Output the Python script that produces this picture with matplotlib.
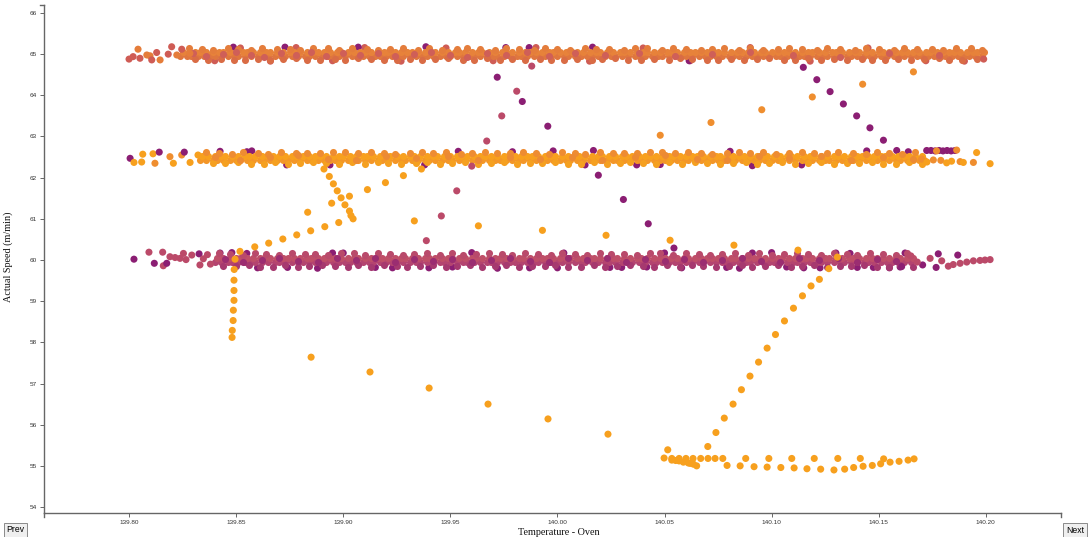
import matplotlib

matplotlib.use("Agg")
import matplotlib.pyplot as plt
from matplotlib.lines import Line2D

# ---------------------------------------------------------------- data
# colour codes used by the scatter points
PALETTE = ["#8b1e73", "#bb4a69", "#cf5c55", "#e57d3a", "#ef8e2f", "#f7a01e"]

X_TICKS = [139.80, 139.85, 139.90, 139.95, 140.00, 140.05, 140.10, 140.15, 140.20]
Y_TICKS = [54, 55, 56, 57, 58, 59, 60, 61, 62, 63, 64, 65, 66]
X_LIMITS = (139.7603, 140.2351)
Y_LIMITS = (53.855, 66.194)

# dense plateau bands: offsets in thousandths of a degree above 139.8
BAND_ORIGIN = 139.8
BAND_CENTERS = [65.0, 62.48, 60.0]

band65_core_a = [24, 27, 29, 32, 35, 38, 40, 43, 46, 49, 51, 54, 57, 60, 62, 65, 68, 71, 73, 76, 79, 82, 84, 87,
                 90, 93, 95, 98, 101, 104, 106, 109, 112, 115, 117, 120, 123, 126, 128, 131, 134, 137, 139, 142,
                 145, 148, 150, 153, 156, 159, 161, 164, 167, 170, 172, 175, 178, 181, 183, 186, 189, 192, 194,
                 197, 200, 203, 205, 208, 211, 214, 216, 219, 222, 225, 227, 230, 233, 236, 238, 241, 244, 247,
                 249, 252, 255, 258, 260, 263, 266, 269, 271, 274, 277, 280, 282, 285, 288, 291, 293, 296, 299,
                 302, 304, 307, 310, 313, 315, 318, 321, 324, 326, 329, 332, 335, 337, 340, 343, 346, 348, 351,
                 354, 357, 359, 362, 365, 368, 370, 373, 376, 379, 381, 384, 387, 390, 392, 395, 398]
band65_core_b = [25, 28, 31, 33, 36, 39, 42, 44, 47, 50, 53, 55, 58, 61, 64, 66, 69, 72, 75, 77, 80, 83, 86, 88,
                 91, 94, 97, 99, 102, 105, 108, 110, 113, 116, 119, 121, 124, 127, 130, 132, 135, 138, 141, 143,
                 146, 149, 152, 154, 157, 160, 163, 165, 168, 171, 174, 176, 179, 182, 185, 187, 190, 193, 196,
                 198, 201, 204, 207, 209, 212, 215, 218, 220, 223, 226, 229, 231, 234, 237, 240, 242, 245, 248,
                 251, 253, 256, 259, 262, 264, 267, 270, 273, 275, 278, 281, 284, 286, 289, 292, 295, 297, 300,
                 303, 306, 308, 311, 314, 317, 319, 322, 325, 328, 330, 333, 336, 339, 341, 344, 347, 350, 352,
                 355, 358, 361, 363, 366, 369, 372, 374, 377, 380, 383, 385, 388, 391, 394, 396, 399]
band65_top = [28, 34, 39, 46, 51, 57, 62, 69, 75, 80, 86, 93, 98, 104, 111, 116, 122, 128, 135, 140, 146, 153,
              158, 164, 171, 176, 182, 189, 194, 200, 206, 213, 218, 224, 231, 236, 242, 249, 254, 260, 267, 272,
              278, 285, 290, 296, 303, 308, 314, 321, 326, 332, 339, 344, 350, 357, 362, 368, 375, 380, 386, 393,
              398]
band65_bottom = [31, 37, 43, 49, 54, 60, 66, 72, 78, 83, 89, 96, 101, 107, 113, 119, 125, 131, 137, 143, 149,
                 156, 161, 167, 173, 179, 185, 192, 197, 203, 209, 216, 221, 227, 233, 239, 245, 252, 257, 263,
                 270, 275, 281, 287, 293, 299, 306, 311, 317, 323, 329, 335, 342, 347, 353, 359, 365, 371, 378,
                 383, 389, 396]

band62_core_a = [33, 36, 39, 41, 44, 47, 50, 52, 55, 58, 61, 63, 66, 69, 72, 74, 77, 80, 83, 85, 88, 91, 94, 96,
                 99, 102, 105, 107, 110, 113, 116, 118, 121, 124, 127, 129, 132, 135, 138, 140, 143, 146, 149,
                 151, 154, 157, 160, 162, 165, 168, 171, 173, 176, 179, 182, 184, 187, 190, 193, 195, 198, 201,
                 204, 206, 209, 212, 215, 217, 220, 223, 226, 228, 231, 234, 237, 239, 242, 245, 248, 250, 253,
                 256, 259, 261, 264, 267, 270, 272, 275, 278, 281, 283, 286, 289, 292, 294, 297, 300, 303, 305,
                 308, 311, 314, 316, 319, 322, 325, 327, 330, 333, 336, 338, 341, 344, 347, 349, 352, 355, 358,
                 360, 363, 366, 369, 371]
band62_core_b = [34, 37, 40, 43, 45, 48, 51, 54, 56, 59, 62, 65, 67, 70, 73, 76, 78, 81, 84, 87, 89, 92, 95, 98,
                 100, 103, 106, 109, 111, 114, 117, 120, 122, 125, 128, 131, 133, 136, 139, 142, 144, 147, 150,
                 153, 155, 158, 161, 164, 166, 169, 172, 175, 177, 180, 183, 186, 188, 191, 194, 197, 199, 202,
                 205, 208, 210, 213, 216, 219, 221, 224, 227, 230, 232, 235, 238, 241, 243, 246, 249, 252, 254,
                 257, 260, 263, 265, 268, 271, 274, 276, 279, 282, 285, 287, 290, 293, 296, 298, 301, 304, 307,
                 309, 312, 315, 318, 320, 323, 326, 329, 331, 334, 337, 340, 342, 345, 348, 351, 353, 356, 359,
                 362, 364, 367, 370]
band62_top = [36, 42, 48, 53, 60, 65, 71, 78, 83, 89, 95, 101, 107, 113, 119, 124, 131, 137, 142, 148, 155, 160,
              166, 172, 178, 184, 190, 196, 202, 208, 213, 220, 226, 231, 237, 243, 249, 255, 261, 267, 272, 279,
              285, 290, 296, 302, 308, 314, 320, 326, 331, 338, 344, 349, 355, 361, 367]
band62_bottom = [39, 45, 51, 57, 63, 68, 74, 80, 86, 92, 98, 104, 110, 116, 121, 127, 134, 139, 145, 151, 157,
                 163, 169, 175, 181, 187, 193, 199, 205, 211, 217, 223, 229, 234, 240, 246, 252, 258, 264, 270,
                 276, 282, 288, 293, 299, 305, 311, 317, 323, 329, 335, 341, 347, 352, 358, 364, 370]

band60_core_a = [40, 43, 46, 48, 51, 54, 57, 59, 62, 65, 68, 70, 73, 76, 79, 81, 84, 87, 90, 92, 95, 98, 101,
                 103, 106, 109, 112, 114, 117, 120, 123, 125, 128, 131, 134, 136, 139, 142, 145, 147, 150, 153,
                 156, 158, 161, 164, 167, 169, 172, 175, 178, 180, 183, 186, 189, 191, 194, 197, 200, 202, 205,
                 208, 211, 213, 216, 219, 222, 224, 227, 230, 233, 235, 238, 241, 244, 246, 249, 252, 255, 257,
                 260, 263, 266, 268, 271, 274, 277, 279, 282, 285, 288, 290, 293, 296, 299, 301, 304, 307, 310,
                 312, 315, 318, 321, 323, 326, 329, 332, 334, 337, 340, 343, 345, 348, 351, 354, 356, 359, 362,
                 365]
band60_core_b = [41, 44, 47, 50, 52, 55, 58, 61, 63, 66, 69, 72, 74, 77, 80, 83, 85, 88, 91, 94, 96, 99, 102,
                 105, 107, 110, 113, 116, 118, 121, 124, 127, 129, 132, 135, 138, 140, 143, 146, 149, 151, 154,
                 157, 160, 162, 165, 168, 171, 173, 176, 179, 182, 184, 187, 190, 193, 195, 198, 201, 204, 206,
                 209, 212, 215, 217, 220, 223, 226, 228, 231, 234, 237, 239, 242, 245, 248, 250, 253, 256, 259,
                 261, 264, 267, 270, 272, 275, 278, 281, 283, 286, 289, 292, 294, 297, 300, 303, 305, 308, 311,
                 314, 316, 319, 322, 325, 327, 330, 333, 336, 338, 341, 344, 347, 349, 352, 355, 358, 360, 363,
                 366]
band60_top = [42, 47, 53, 59, 64, 70, 76, 82, 87, 93, 99, 105, 110, 116, 122, 128, 133, 139, 145, 151, 156, 162,
              168, 174, 179, 185, 191, 197, 202, 208, 214, 220, 225, 231, 237, 243, 248, 254, 260, 266, 271, 277,
              283, 289, 294, 300, 306, 312, 317, 323, 329, 335, 340, 346, 352, 358, 363]
band60_bottom = [44, 50, 56, 61, 67, 73, 79, 84, 90, 96, 102, 107, 113, 119, 125, 130, 136, 142, 148, 153, 159,
                 165, 171, 176, 182, 188, 194, 199, 205, 211, 217, 222, 228, 234, 240, 245, 251, 257, 263, 268,
                 274, 280, 286, 291, 297, 303, 309, 314, 320, 326, 332, 337, 343, 349, 355, 360, 366]

# darker dots sitting inside each band, giving the mottled look
band65_mottle = [30, 36, 44, 50, 57, 63, 71, 78, 85, 92, 100, 108, 116, 124, 133, 141, 150, 158, 167, 176, 186,
                 196, 208, 222, 238, 255, 272, 290, 310, 332, 355, 378]
band62_mottle = [40, 52, 66, 79, 93, 106, 120, 134, 149, 163, 178, 192, 207, 221, 236, 250, 265, 279, 294, 308,
                 323, 337, 352, 366]
band60_mottle = [45, 53, 62, 70, 79, 88, 97, 106, 115, 124, 133, 142, 151, 160, 169, 178, 187, 196, 205, 214,
                 223, 232, 241, 250, 259, 268, 277, 286, 295, 304, 313, 322, 331, 340, 349, 358]
MOTTLE_DY = [0.03, -0.05, 0.01, 0.06, -0.02, -0.06, 0.04, -0.01, 0.05, -0.04, 0.02, -0.03]

# strand vertical offsets (m/min) and colours per band
band65_offsets = [-0.05, 0.05, 0.12, -0.12]
band62_offsets = [-0.05, 0.05, 0.12, -0.12]
band60_offsets = [-0.055, 0.055, 0.14, -0.14]
band65_colors = ["#df763e", "#e7823a", "#e47d3c", "#d96c45"]
band62_colors = ["#f39628", "#f8a01e", "#ee8c32", "#f5a020"]
band60_colors = ["#b44470", "#bf4f68", "#b94a6b", "#a6396f"]
band_mottle_colors = ["#cf5f58", "#ec8a33", "#9b2d71"]
# how far each edge dot sits outside its strand line (m/min)
EDGE_WOBBLE = [0.02, -0.01, 0.03, 0.00, -0.02, 0.01, 0.03, -0.01, 0.02, -0.02, 0.00, 0.03, 0.01,
               -0.01, 0.02, 0.00, -0.02, 0.03, 0.01, -0.02, 0.02, 0.00, 0.01, -0.01, 0.03]

# individual points between the plateaus
vert_x = [139.8495, 139.8491, 139.8490, 139.8490, 139.8490, 139.8487, 139.8486, 139.8482, 139.8481]
vert_y = [60.02, 59.77, 59.51, 59.26, 59.02, 58.78, 58.53, 58.29, 58.12]
fall_x = [139.8850, 139.9125, 139.9401, 139.9676, 139.9956, 140.0236, 140.0515]
fall_y = [57.64, 57.28, 56.89, 56.50, 56.14, 55.77, 55.39]
climb_low_x = [139.8518, 139.8587, 139.8652, 139.8718, 139.8783, 139.8848, 139.8914, 139.8979]
climb_low_y = [60.21, 60.32, 60.41, 60.51, 60.61, 60.71, 60.81, 60.91]
drop_mid_x = [139.8910, 139.8935, 139.8954, 139.8972, 139.8990, 139.9008, 139.9029, 139.9036, 139.9046]
drop_mid_y = [62.21, 62.03, 61.85, 61.68, 61.51, 61.34, 61.19, 61.08, 61.00]
climb_mid_x = [139.8834, 139.8946, 139.9029, 139.9113, 139.9197, 139.9281, 139.9365]
climb_mid_y = [61.16, 61.38, 61.55, 61.71, 61.88, 62.05, 62.21]
glide_x = [139.9332, 139.9631, 139.9930, 140.0227, 140.0526, 140.0824, 140.1123, 140.1307]
glide_y = [60.95, 60.83, 60.72, 60.60, 60.48, 60.36, 60.24, 60.07]
rose_x = [139.9388, 139.9458, 139.9530, 139.9600, 139.9670, 139.9740, 139.9810, 139.9880]
rose_y = [60.47, 61.07, 61.68, 62.28, 62.89, 63.50, 64.10, 64.71]
purple_x = [139.9719, 139.9836, 139.9955, 140.0191, 140.0308, 140.0424, 140.0544]
purple_y = [64.44, 63.85, 63.25, 62.06, 61.47, 60.88, 60.29]
purple_r_x = [140.1148, 140.1211, 140.1273, 140.1335, 140.1397, 140.1459, 140.1522]
purple_r_y = [64.68, 64.38, 64.09, 63.79, 63.50, 63.21, 62.91]
orange_r_x = [140.0480, 140.0717, 140.0954, 140.1190, 140.1425, 140.1662]
orange_r_y = [63.03, 63.34, 63.65, 63.96, 64.27, 64.57]
rise_x = [140.0702, 140.0740, 140.0779, 140.0820, 140.0859, 140.0899, 140.0939, 140.0979, 140.1018, 140.1060,
          140.1102, 140.1144, 140.1184, 140.1223, 140.1267]
rise_y = [55.47, 55.81, 56.16, 56.50, 56.85, 57.18, 57.52, 57.86, 58.19, 58.52, 58.83, 59.13, 59.37, 59.53, 59.79]
floor_hi_x = [140.0498, 140.0534, 140.0568, 140.0600, 140.0633, 140.0669, 140.0703, 140.0736, 140.0772,
              140.0879, 140.0987, 140.1094, 140.1199, 140.1309, 140.1414, 140.1523]
floor_hi_y = [55.19, 55.18, 55.18, 55.18, 55.18, 55.18, 55.18, 55.18, 55.18, 55.18, 55.18, 55.18, 55.18, 55.18,
              55.18, 55.17]
floor_slope_x = [140.0534, 140.0552, 140.0568, 140.0588, 140.0611, 140.0620, 140.0635, 140.0650]
floor_slope_y = [55.14, 55.13, 55.12, 55.09, 55.07, 55.06, 55.04, 55.00]
floor_lo_x = [140.0792, 140.0853, 140.0918, 140.0979, 140.1043, 140.1105, 140.1165, 140.1229, 140.1291,
              140.1341, 140.1383, 140.1427, 140.1470, 140.1509, 140.1553, 140.1595, 140.1637, 140.1665]
floor_lo_y = [55.01, 55.00, 54.98, 54.97, 54.96, 54.95, 54.93, 54.92, 54.90, 54.92, 54.96, 54.99, 55.01, 55.05,
              55.09, 55.11, 55.14, 55.17]

# loose points at the band ends (drawn on top)
b65_end_x = [139.8000, 139.8019, 139.8042, 139.8051, 139.8083, 139.8098, 139.8106, 139.8129, 139.8145,
             139.8183, 139.8199, 139.8223, 139.8246, 139.8284, 140.1990]
b65_end_y = [64.88, 64.94, 65.12, 64.90, 64.98, 64.96, 64.86, 65.04, 64.86, 65.00, 65.18, 64.98, 65.12, 65.02,
             64.88]
b65_end_c = [2, 2, 3, 2, 3, 3, 2, 2, 3, 2, 2, 3, 2, 3, 2]

b62_end_x = [139.8005, 139.8023, 139.8059, 139.8064, 139.8112, 139.8121, 139.8141, 139.8191, 139.8207,
             139.8246, 139.8258, 139.8285, 139.8322,
             140.1724, 140.1744, 140.1763, 140.1782, 140.1800, 140.1819, 140.1838, 140.1856, 140.1770,
             140.1864,
             140.1700, 140.1725, 140.1755, 140.1790, 140.1817, 140.1840, 140.1880, 140.1895, 140.1942,
             140.1957, 140.2020]
b62_end_y = [62.47, 62.37, 62.38, 62.57, 62.58, 62.35, 62.62, 62.51, 62.35, 62.55, 62.62, 62.37, 62.55,
             62.66, 62.66, 62.65, 62.66, 62.65, 62.66, 62.65, 62.66, 62.65, 62.67,
             62.45, 62.38, 62.43, 62.42, 62.36, 62.40, 62.39, 62.37, 62.37, 62.61, 62.34]
b62_end_c = [0, 5, 5, 5, 5, 4, 0, 4, 5, 4, 0, 5, 5,
             0, 0, 0, 0, 0, 0, 0, 0, 4, 4,
             4, 5, 4, 4, 5, 5, 4, 5, 4, 5, 5]

b60_end_x = [139.8023, 139.8093, 139.8118, 139.8157, 139.8160, 139.8176, 139.8191, 139.8215, 139.8238,
             139.8254, 139.8266, 139.8293, 139.8327, 139.8331, 139.8347, 139.8366, 139.8380,
             140.1607, 140.1705, 140.1740, 140.1768, 140.1778, 140.1794, 140.1869, 140.1650, 140.1680,
             140.1825, 140.1848, 140.1880, 140.1911, 140.1942, 140.1973, 140.1996, 140.2020]
b60_end_y = [60.02, 60.19, 59.92, 60.19, 59.86, 59.92, 60.08, 60.06, 60.04, 60.16, 60.01, 60.12, 60.15,
             59.88, 60.03, 60.13, 59.90,
             59.84, 59.88, 60.04, 59.82, 60.15, 59.98, 60.12, 60.10, 59.95,
             59.85, 59.89, 59.92, 59.95, 59.98, 59.99, 60.00, 60.01]
b60_end_c = [0, 1, 0, 1, 1, 0, 1, 1, 1, 1, 1, 1, 0, 1, 1, 1, 1,
             0, 0, 1, 0, 0, 1, 0, 1, 1,
             1, 1, 1, 1, 1, 1, 1, 1]

# specks of other colours inside the bands (drawn underneath, so they peek out at the edges)
b65_speck_x = [139.8400, 139.8520, 139.8660, 139.8780, 139.8950, 139.9100, 139.9270, 139.9480, 139.9700,
               139.9900, 140.0150, 140.0400, 140.0620, 140.0900, 140.1180, 140.1450, 140.1720, 140.1900,
               139.8487, 139.8728, 139.9070, 139.9386, 139.9759, 139.9868, 140.0164, 140.0615]
b65_speck_y = [64.84, 65.15, 64.83, 65.16, 64.84, 65.16, 64.83, 65.15, 64.84, 65.16, 64.83, 65.15, 64.84,
               65.16, 64.83, 65.15, 64.84, 64.83,
               65.17, 65.17, 65.17, 65.18, 65.16, 65.16, 65.17, 64.84]
b65_speck_c = [2, 2, 2, 2, 2, 2, 2, 2, 2, 2, 2, 2, 2, 2, 2, 2, 2, 2, 0, 0, 0, 0, 0, 0, 0, 0]

b62_speck_x = [139.8425, 139.8550, 139.8573, 139.8736, 139.8938, 139.9380, 139.9537, 139.9790, 139.9980,
               140.0129, 140.0168, 140.0370, 140.0480, 140.0806, 140.0910, 140.1140, 140.1444, 140.1584,
               140.1638]
b62_speck_y = [62.64, 62.63, 62.65, 62.31, 62.31, 62.31, 62.64, 62.63, 62.65, 62.31, 62.66, 62.31, 62.32,
               62.64, 62.29, 62.31, 62.65, 62.66, 62.63]

b60_speck_x = [139.8425, 139.8550, 139.8740, 139.8950, 139.9230, 139.9510, 139.9870, 140.0030, 140.0245,
               140.0417, 140.0790, 140.0910, 140.1070, 140.1226, 140.1366, 140.1475, 140.1600, 140.1623,
               139.8600, 139.8880, 139.9150, 139.9400, 139.9720, 140.0000, 140.0300, 140.0580, 140.0850,
               140.1150, 140.1400, 140.1550,
               139.8480, 139.9000, 139.9600, 140.0500, 140.1000, 140.1300]
b60_speck_y = [60.17, 60.16, 59.82, 60.17, 59.81, 59.83, 59.81, 60.17, 59.82, 59.83, 59.82, 60.17, 59.83,
               59.81, 60.16, 59.82, 59.83, 60.17,
               59.81, 59.80, 59.82, 59.81, 59.80, 59.81, 59.82, 59.81, 59.80, 59.81, 59.82, 59.81,
               60.18, 60.17, 60.18, 60.17, 60.18, 60.17]

# ---------------------------------------------------------------- layout
FIG_W, FIG_H = 1088, 537
AX_LEFT, AX_RIGHT, AX_TOP, AX_BOTTOM = 44, 1061, 5, 513  # pixels
DOT_SIZE = 26
AXIS_COLOR = "#666666"


def to_temperature(offsets):
    return [BAND_ORIGIN + value / 1000 for value in offsets]


def draw_band(axis, center, strands, offsets, colors):
    for index, (xs, dy, color) in enumerate(zip(strands, offsets, colors)):
        ys = []
        for position in range(len(xs)):
            wobble = 0.0
            if index >= 2:  # edge strands get a ragged outline
                wobble = EDGE_WOBBLE[(position + 7 * index) % len(EDGE_WOBBLE)]
                wobble = wobble if dy > 0 else -wobble
            ys.append(center + dy + wobble)
        axis.scatter(to_temperature(xs), ys, s=DOT_SIZE, c=color, linewidths=0, zorder=2)


def draw_mottle(axis, center, xs, color):
    ys = [center + MOTTLE_DY[position % len(MOTTLE_DY)] for position in range(len(xs))]
    axis.scatter(to_temperature(xs), ys, s=DOT_SIZE, c=color, linewidths=0, zorder=2.5)


def draw_points(axis, xs, ys, codes, zorder=3):
    if isinstance(codes, int):
        codes = [codes] * len(xs)
    axis.scatter(xs, ys, s=DOT_SIZE, c=[PALETTE[code] for code in codes], linewidths=0, zorder=zorder)


figure = plt.figure(figsize=(FIG_W / 100, FIG_H / 100), dpi=100)
axis = figure.add_axes([
    AX_LEFT / FIG_W,
    1 - AX_BOTTOM / FIG_H,
    (AX_RIGHT - AX_LEFT) / FIG_W,
    (AX_BOTTOM - AX_TOP) / FIG_H,
])

draw_points(axis, b65_speck_x, b65_speck_y, b65_speck_c, zorder=1)
draw_points(axis, b62_speck_x, b62_speck_y, 0, zorder=1)
draw_points(axis, b60_speck_x, b60_speck_y, 0, zorder=1)

draw_band(axis, BAND_CENTERS[0], [band65_core_a, band65_core_b, band65_top, band65_bottom],
          band65_offsets, band65_colors)
draw_band(axis, BAND_CENTERS[1], [band62_core_a, band62_core_b, band62_top, band62_bottom],
          band62_offsets, band62_colors)
draw_band(axis, BAND_CENTERS[2], [band60_core_a, band60_core_b, band60_top, band60_bottom],
          band60_offsets, band60_colors)
for center, xs, color in zip(BAND_CENTERS, [band65_mottle, band62_mottle, band60_mottle], band_mottle_colors):
    draw_mottle(axis, center, xs, color)

draw_points(axis, b65_end_x, b65_end_y, b65_end_c)
draw_points(axis, b62_end_x, b62_end_y, b62_end_c)
draw_points(axis, b60_end_x, b60_end_y, b60_end_c)

for xs, ys, code in [
    (vert_x, vert_y, 5), (fall_x, fall_y, 5), (climb_low_x, climb_low_y, 5),
    (drop_mid_x, drop_mid_y, 5), (climb_mid_x, climb_mid_y, 5), (glide_x, glide_y, 5),
    (rose_x, rose_y, 1), (purple_x, purple_y, 0), (purple_r_x, purple_r_y, 0),
    (orange_r_x, orange_r_y, 4), (rise_x, rise_y, 5), (floor_hi_x, floor_hi_y, 5),
    (floor_slope_x, floor_slope_y, 5), (floor_lo_x, floor_lo_y, 5),
]:
    draw_points(axis, xs, ys, code)

axis.set_xlim(*X_LIMITS)
axis.set_ylim(*Y_LIMITS)
axis.set_xticks(X_TICKS)
axis.set_xticklabels([f"{value:.2f}" for value in X_TICKS])
axis.set_yticks(Y_TICKS)
axis.set_yticklabels([str(value) for value in Y_TICKS])
axis.tick_params(direction="out", length=3, width=0.7, color=AXIS_COLOR, labelsize=4.6,
                 labelcolor="#333333", pad=2)
for label in axis.get_xticklabels() + axis.get_yticklabels():
    label.set_fontfamily("Liberation Sans")
for side in ("top", "right"):
    axis.spines[side].set_visible(False)
for side in ("left", "bottom"):
    axis.spines[side].set_color(AXIS_COLOR)
    axis.spines[side].set_linewidth(1.0)

# outer ticks at the ends of each axis line
left, right = AX_LEFT / FIG_W, AX_RIGHT / FIG_W
top, bottom = 1 - AX_TOP / FIG_H, 1 - AX_BOTTOM / FIG_H
tick_w, tick_h = 4 / FIG_W, 4 / FIG_H
for xs, ys in [
    ([left, left], [bottom, bottom - tick_h]),
    ([right, right], [bottom, bottom - tick_h]),
    ([left, left - tick_w], [top, top]),
]:
    figure.add_artist(Line2D(xs, ys, transform=figure.transFigure, color=AXIS_COLOR, linewidth=1.0))

figure.text(559 / FIG_W, 1 - 532.5 / FIG_H, "Temperature - Oven", ha="center", va="center",
            fontsize=7.3, family="Liberation Serif", color="#111111")
figure.text(8 / FIG_W, 1 - 257 / FIG_H, "Actual Speed (m/min)", ha="center", va="center",
            rotation=90, fontsize=7.3, family="Liberation Serif", color="#111111")

button_style = dict(boxstyle="square,pad=0.3", facecolor="#efefef", edgecolor="#8a8a8a", linewidth=0.7)
figure.text(15.5 / FIG_W, 1 - 530 / FIG_H, "Prev", ha="center", va="center", fontsize=6.2,
            family="Liberation Sans", bbox=button_style)
figure.text(1075 / FIG_W, 1 - 530.5 / FIG_H, "Next", ha="center", va="center", fontsize=6.2,
            family="Liberation Sans", bbox=button_style)

figure.savefig("out.png", dpi=100)
plt.close(figure)
